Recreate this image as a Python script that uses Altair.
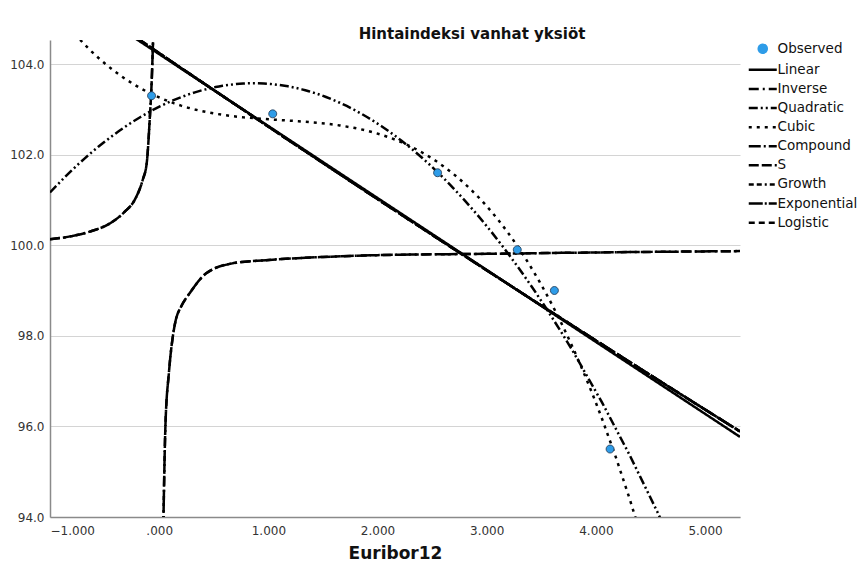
import altair as alt
import pandas as pd

obs_x = [-0.07, 1.04, 2.55, 3.28, 3.62, 4.13]
obs_y = [103.3, 102.9, 101.6, 99.9, 99.0, 95.5]

# Inverse / S fitted curves, two branches around x = 0
inv_left_x = [-1.0, -0.8, -0.635, -0.452, -0.315, -0.224, -0.151, -0.114, -0.087, -0.068, -0.055]
inv_left_y = [100.13, 100.20, 100.30, 100.48, 100.74, 101.00, 101.44, 101.81, 102.76, 103.65, 104.60]
inv_right_x = [0.038, 0.057, 0.089, 0.126, 0.152, 0.20, 0.279, 0.431, 0.674, 0.979, 1.5, 2.0, 3.0, 4.0, 5.32]
inv_right_y = [93.8, 96.0, 97.18, 98.0, 98.35, 98.64, 98.94, 99.38, 99.60, 99.67, 99.74, 99.78, 99.81, 99.84, 99.87]

series_names = ["Observed", "Linear", "Inverse", "Quadratic", "Cubic",
                "Compound", "S", "Growth", "Exponential", "Logistic"]
series_colors = ["#2E9CE8"] + ["#000000"] * 9
series_dashes = [[1, 0], [1, 0], [10, 4, 2, 4], [9, 3, 2, 3, 2, 3], [3, 5],
                 [12, 3, 2, 3], [10, 3], [5, 3, 5, 3, 2, 3], [14, 2, 2, 2], [6, 4]]
circle_path = "M -1 0 A 1 1 0 1 1 1 0 A 1 1 0 1 1 -1 0 Z"
line_path = "M -3.5 0 H 3.5"
series_shapes = [circle_path] + [line_path] * 9

x_ticks = [-1, 0, 1, 2, 3, 4, 5]
y_ticks = [94, 96, 98, 100, 102, 104]
x_domain = [-1.0, 5.32]
y_domain = [94.0, 104.53]

obs_df = pd.DataFrame({"x": obs_x, "y": obs_y, "series": "Observed"})

rows = []
for s in ["Inverse", "S"]:
    for xv, yv in zip(inv_left_x, inv_left_y):
        rows.append({"x": xv, "y": yv, "series": s, "branch": s + "L"})
    for xv, yv in zip(inv_right_x, inv_right_y):
        rows.append({"x": xv, "y": yv, "series": s, "branch": s + "R"})
inv_df = pd.DataFrame(rows)

font = "DejaVu Sans"

legend = alt.Legend(title=None, orient="none", legendX=706, legendY=2,
                    labelFont=font, labelFontSize=13.5, labelColor="#111",
                    symbolSize=64, symbolStrokeWidth=2.5, rowPadding=4.1,
                    labelOffset=8, padding=0)

color_enc = alt.Color("series:N", scale=alt.Scale(domain=series_names, range=series_colors), legend=legend)
dash_enc = alt.StrokeDash("series:N", scale=alt.Scale(domain=series_names, range=series_dashes), legend=legend)
shape_enc = alt.Shape("series:N", scale=alt.Scale(domain=series_names, range=series_shapes), legend=legend)

x_enc = alt.X("x:Q", scale=alt.Scale(domain=x_domain, nice=False, zero=False),
              axis=alt.Axis(values=x_ticks, title="Euribor12",
                            labelExpr="datum.value == 0 ? '.000' : format(datum.value, '.3f')",
                            grid=False, ticks=False, labelPadding=8,
                            titleFontSize=17, titleFontWeight="bold", titleFont=font,
                            titleColor="#111", titlePadding=9))
y_enc = alt.Y("y:Q", scale=alt.Scale(domain=y_domain, nice=False, zero=False),
              axis=alt.Axis(values=y_ticks, format=".1f", title=None, grid=True,
                            ticks=False, labelPadding=6))

layers = []

def reg_layer(name, method, order=None):
    kw = dict(method=method, extent=x_domain)
    if order is not None:
        kw["order"] = order
    return (alt.Chart(obs_df)
            .transform_regression("x", "y", **kw)
            .transform_calculate(series=f"'{name}'")
            .mark_line(clip=True, strokeWidth=2.5)
            .encode(x=x_enc, y=y_enc, color=color_enc, strokeDash=dash_enc))

layers.append(reg_layer("Linear", "linear"))
layers.append(reg_layer("Quadratic", "quad"))
layers.append(reg_layer("Cubic", "poly", 3))
for nm in ["Compound", "Growth", "Exponential", "Logistic"]:
    layers.append(reg_layer(nm, "exp"))

inv_layer = (alt.Chart(inv_df)
             .mark_line(clip=True, strokeWidth=2.5, interpolate="monotone")
             .encode(x=x_enc, y=y_enc, detail="branch:N", color=color_enc, strokeDash=dash_enc))
layers.append(inv_layer)

pts = (alt.Chart(obs_df)
       .mark_point(filled=True, size=64, stroke="#1d3550", strokeWidth=0.8, opacity=1)
       .encode(x=x_enc, y=y_enc, color=color_enc, shape=shape_enc))
layers.append(pts)

chart = (alt.layer(*layers)
         .properties(width=690, height=477,
                     title=alt.TitleParams("Hintaindeksi vanhat yksiöt", font=font, fontSize=15,
                                           fontWeight="bold", color="#111", anchor="middle",
                                           dx=77, dy=2, offset=0),
                     autosize=alt.AutoSizeParams(type="none"),
                     padding={"left": 42, "top": 32, "right": 120, "bottom": 47})
         .configure_view(stroke=None)
         .configure_axis(labelFont=font, labelFontSize=12, labelColor="#333",
                         domainColor="#8a8a8a", domainWidth=1.5,
                         gridColor="#d4d4d4", gridWidth=1.2)
         .configure_legend(labelFont=font))

chart.save("out.html", embed_options={"renderer": "svg", "actions": False})
